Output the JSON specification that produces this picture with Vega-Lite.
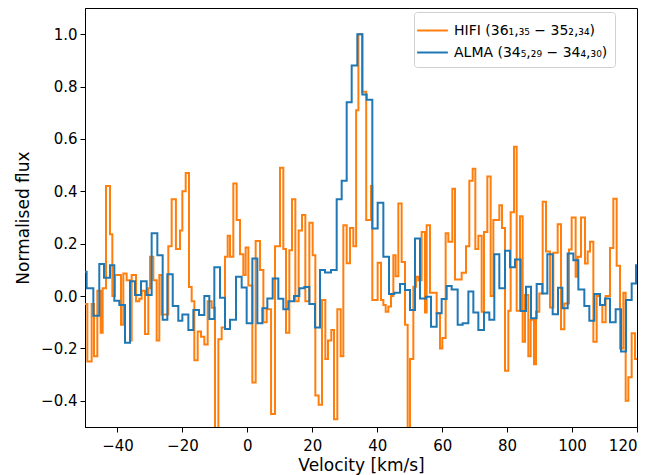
{
  "$schema": "https://vega.github.io/schema/vega-lite/v6.json",
  "width": 552,
  "height": 419,
  "autosize": {"type": "none"},
  "padding": {"left": 85, "top": 8, "right": 27, "bottom": 48},
  "background": "white",
  "config": {
    "font": "DejaVu Sans",
    "view": {"stroke": "black", "strokeWidth": 1},
    "axis": {
      "grid": false,
      "domainColor": "black",
      "domainWidth": 1,
      "tickColor": "black",
      "tickSize": 5,
      "tickWidth": 1,
      "labelFont": "DejaVu Sans",
      "labelFontSize": 15,
      "labelColor": "black",
      "titleFont": "DejaVu Sans",
      "titleFontSize": 17,
      "titleFontWeight": "normal",
      "titleColor": "black",
      "labelPadding": 3
    }
  },
  "datasets": {
    "hifi": [
      {"v": -50, "f": -0.03, "s": "HIFI (36₁,₃₅ − 35₂,₃₄)"},
      {"v": -49.28, "f": -0.25, "s": "HIFI (36₁,₃₅ − 35₂,₃₄)"},
      {"v": -47.95, "f": -0.03, "s": "HIFI (36₁,₃₅ − 35₂,₃₄)"},
      {"v": -47.23, "f": -0.23, "s": "HIFI (36₁,₃₅ − 35₂,₃₄)"},
      {"v": -46.2, "f": 0.02, "s": "HIFI (36₁,₃₅ − 35₂,₃₄)"},
      {"v": -45.17, "f": -0.14, "s": "HIFI (36₁,₃₅ − 35₂,₃₄)"},
      {"v": -44.56, "f": 0.03, "s": "HIFI (36₁,₃₅ − 35₂,₃₄)"},
      {"v": -43.53, "f": 0.42, "s": "HIFI (36₁,₃₅ − 35₂,₃₄)"},
      {"v": -42.3, "f": 0.236, "s": "HIFI (36₁,₃₅ − 35₂,₃₄)"},
      {"v": -41.58, "f": 0.0, "s": "HIFI (36₁,₃₅ − 35₂,₃₄)"},
      {"v": -40.76, "f": 0.08, "s": "HIFI (36₁,₃₅ − 35₂,₃₄)"},
      {"v": -38.91, "f": -0.11, "s": "HIFI (36₁,₃₅ − 35₂,₃₄)"},
      {"v": -38.2, "f": 0.086, "s": "HIFI (36₁,₃₅ − 35₂,₃₄)"},
      {"v": -37.17, "f": 0.06, "s": "HIFI (36₁,₃₅ − 35₂,₃₄)"},
      {"v": -36.14, "f": -0.17, "s": "HIFI (36₁,₃₅ − 35₂,₃₄)"},
      {"v": -35.63, "f": 0.08, "s": "HIFI (36₁,₃₅ − 35₂,₃₄)"},
      {"v": -34.29, "f": -0.02, "s": "HIFI (36₁,₃₅ − 35₂,₃₄)"},
      {"v": -33.27, "f": -0.01, "s": "HIFI (36₁,₃₅ − 35₂,₃₄)"},
      {"v": -32.55, "f": 0.02, "s": "HIFI (36₁,₃₅ − 35₂,₃₄)"},
      {"v": -31.52, "f": -0.145, "s": "HIFI (36₁,₃₅ − 35₂,₃₄)"},
      {"v": -30.5, "f": 0.03, "s": "HIFI (36₁,₃₅ − 35₂,₃₄)"},
      {"v": -29.98, "f": 0.15, "s": "HIFI (36₁,₃₅ − 35₂,₃₄)"},
      {"v": -28.95, "f": 0.06, "s": "HIFI (36₁,₃₅ − 35₂,₃₄)"},
      {"v": -27.93, "f": -0.17, "s": "HIFI (36₁,₃₅ − 35₂,₃₄)"},
      {"v": -27.11, "f": 0.08, "s": "HIFI (36₁,₃₅ − 35₂,₃₄)"},
      {"v": -26.39, "f": -0.07, "s": "HIFI (36₁,₃₅ − 35₂,₃₄)"},
      {"v": -24.34, "f": 0.19, "s": "HIFI (36₁,₃₅ − 35₂,₃₄)"},
      {"v": -23.31, "f": 0.37, "s": "HIFI (36₁,₃₅ − 35₂,₃₄)"},
      {"v": -22.0, "f": 0.18, "s": "HIFI (36₁,₃₅ − 35₂,₃₄)"},
      {"v": -20.74, "f": 0.25, "s": "HIFI (36₁,₃₅ − 35₂,₃₄)"},
      {"v": -20.02, "f": 0.4, "s": "HIFI (36₁,₃₅ − 35₂,₃₄)"},
      {"v": -18.99, "f": 0.47, "s": "HIFI (36₁,₃₅ − 35₂,₃₄)"},
      {"v": -17.97, "f": 0.035, "s": "HIFI (36₁,₃₅ − 35₂,₃₄)"},
      {"v": -17.15, "f": -0.02, "s": "HIFI (36₁,₃₅ − 35₂,₃₄)"},
      {"v": -16.33, "f": -0.245, "s": "HIFI (36₁,₃₅ − 35₂,₃₄)"},
      {"v": -15.3, "f": -0.135, "s": "HIFI (36₁,₃₅ − 35₂,₃₄)"},
      {"v": -14.27, "f": -0.155, "s": "HIFI (36₁,₃₅ − 35₂,₃₄)"},
      {"v": -13.25, "f": -0.185, "s": "HIFI (36₁,₃₅ − 35₂,₃₄)"},
      {"v": -12.22, "f": -0.02, "s": "HIFI (36₁,₃₅ − 35₂,₃₄)"},
      {"v": -10.99, "f": -0.045, "s": "HIFI (36₁,₃₅ − 35₂,₃₄)"},
      {"v": -9.96, "f": -0.6, "s": "HIFI (36₁,₃₅ − 35₂,₃₄)"},
      {"v": -8.93, "f": -0.165, "s": "HIFI (36₁,₃₅ − 35₂,₃₄)"},
      {"v": -7.91, "f": -0.12, "s": "HIFI (36₁,₃₅ − 35₂,₃₄)"},
      {"v": -6.88, "f": 0.15, "s": "HIFI (36₁,₃₅ − 35₂,₃₄)"},
      {"v": -6.06, "f": 0.23, "s": "HIFI (36₁,₃₅ − 35₂,₃₄)"},
      {"v": -5.34, "f": 0.15, "s": "HIFI (36₁,₃₅ − 35₂,₃₄)"},
      {"v": -4.32, "f": 0.43, "s": "HIFI (36₁,₃₅ − 35₂,₃₄)"},
      {"v": -3.29, "f": 0.29, "s": "HIFI (36₁,₃₅ − 35₂,₃₄)"},
      {"v": -2.26, "f": 0.16, "s": "HIFI (36₁,₃₅ − 35₂,₃₄)"},
      {"v": -1.24, "f": 0.08, "s": "HIFI (36₁,₃₅ − 35₂,₃₄)"},
      {"v": -0.52, "f": 0.185, "s": "HIFI (36₁,₃₅ − 35₂,₃₄)"},
      {"v": 0.31, "f": 0.04, "s": "HIFI (36₁,₃₅ − 35₂,₃₄)"},
      {"v": 1.54, "f": -0.33, "s": "HIFI (36₁,₃₅ − 35₂,₃₄)"},
      {"v": 2.56, "f": 0.21, "s": "HIFI (36₁,₃₅ − 35₂,₃₄)"},
      {"v": 3.9, "f": 0.1, "s": "HIFI (36₁,₃₅ − 35₂,₃₄)"},
      {"v": 4.93, "f": -0.1, "s": "HIFI (36₁,₃₅ − 35₂,₃₄)"},
      {"v": 5.95, "f": -0.05, "s": "HIFI (36₁,₃₅ − 35₂,₃₄)"},
      {"v": 7.3, "f": -0.45, "s": "HIFI (36₁,₃₅ − 35₂,₃₄)"},
      {"v": 8.52, "f": 0.19, "s": "HIFI (36₁,₃₅ − 35₂,₃₄)"},
      {"v": 10.05, "f": 0.49, "s": "HIFI (36₁,₃₅ − 35₂,₃₄)"},
      {"v": 11.08, "f": 0.18, "s": "HIFI (36₁,₃₅ − 35₂,₃₄)"},
      {"v": 11.9, "f": -0.14, "s": "HIFI (36₁,₃₅ − 35₂,₃₄)"},
      {"v": 12.93, "f": 0.175, "s": "HIFI (36₁,₃₅ − 35₂,₃₄)"},
      {"v": 13.75, "f": 0.37, "s": "HIFI (36₁,₃₅ − 35₂,₃₄)"},
      {"v": 14.78, "f": -0.02, "s": "HIFI (36₁,₃₅ − 35₂,₃₄)"},
      {"v": 15.8, "f": 0.25, "s": "HIFI (36₁,₃₅ − 35₂,₃₄)"},
      {"v": 16.83, "f": 0.31, "s": "HIFI (36₁,₃₅ − 35₂,₃₄)"},
      {"v": 17.86, "f": -0.02, "s": "HIFI (36₁,₃₅ − 35₂,₃₄)"},
      {"v": 19.09, "f": 0.28, "s": "HIFI (36₁,₃₅ − 35₂,₃₄)"},
      {"v": 20.12, "f": 0.156, "s": "HIFI (36₁,₃₅ − 35₂,₃₄)"},
      {"v": 20.94, "f": -0.38, "s": "HIFI (36₁,₃₅ − 35₂,₃₄)"},
      {"v": 21.96, "f": -0.415, "s": "HIFI (36₁,₃₅ − 35₂,₃₄)"},
      {"v": 22.99, "f": -0.015, "s": "HIFI (36₁,₃₅ − 35₂,₃₄)"},
      {"v": 24.02, "f": -0.24, "s": "HIFI (36₁,₃₅ − 35₂,₃₄)"},
      {"v": 24.84, "f": -0.17, "s": "HIFI (36₁,₃₅ − 35₂,₃₄)"},
      {"v": 25.86, "f": -0.13, "s": "HIFI (36₁,₃₅ − 35₂,₃₄)"},
      {"v": 26.69, "f": -0.47, "s": "HIFI (36₁,₃₅ − 35₂,₃₄)"},
      {"v": 27.71, "f": -0.05, "s": "HIFI (36₁,₃₅ − 35₂,₃₄)"},
      {"v": 28.74, "f": -0.23, "s": "HIFI (36₁,₃₅ − 35₂,₃₄)"},
      {"v": 29.56, "f": 0.27, "s": "HIFI (36₁,₃₅ − 35₂,₃₄)"},
      {"v": 30.59, "f": 0.125, "s": "HIFI (36₁,₃₅ − 35₂,₃₄)"},
      {"v": 31.61, "f": 0.26, "s": "HIFI (36₁,₃₅ − 35₂,₃₄)"},
      {"v": 32.64, "f": 0.19, "s": "HIFI (36₁,₃₅ − 35₂,₃₄)"},
      {"v": 33.5, "f": 0.71, "s": "HIFI (36₁,₃₅ − 35₂,₃₄)"},
      {"v": 34.2, "f": 1.0, "s": "HIFI (36₁,₃₅ − 35₂,₃₄)"},
      {"v": 35.4, "f": 0.78, "s": "HIFI (36₁,₃₅ − 35₂,₃₄)"},
      {"v": 36.6, "f": 0.29, "s": "HIFI (36₁,₃₅ − 35₂,₃₄)"},
      {"v": 38.08, "f": 0.42, "s": "HIFI (36₁,₃₅ − 35₂,₃₄)"},
      {"v": 38.49, "f": -0.015, "s": "HIFI (36₁,₃₅ − 35₂,₃₄)"},
      {"v": 40.13, "f": 0.127, "s": "HIFI (36₁,₃₅ − 35₂,₃₄)"},
      {"v": 41.16, "f": -0.015, "s": "HIFI (36₁,₃₅ − 35₂,₃₄)"},
      {"v": 41.88, "f": -0.034, "s": "HIFI (36₁,₃₅ − 35₂,₃₄)"},
      {"v": 42.6, "f": -0.06, "s": "HIFI (36₁,₃₅ − 35₂,₃₄)"},
      {"v": 43.42, "f": -0.04, "s": "HIFI (36₁,₃₅ − 35₂,₃₄)"},
      {"v": 44.24, "f": 0.0, "s": "HIFI (36₁,₃₅ − 35₂,₃₄)"},
      {"v": 44.96, "f": 0.156, "s": "HIFI (36₁,₃₅ − 35₂,₃₄)"},
      {"v": 45.67, "f": 0.076, "s": "HIFI (36₁,₃₅ − 35₂,₃₄)"},
      {"v": 46.5, "f": 0.353, "s": "HIFI (36₁,₃₅ − 35₂,₃₄)"},
      {"v": 47.52, "f": 0.13, "s": "HIFI (36₁,₃₅ − 35₂,₃₄)"},
      {"v": 48.55, "f": -0.11, "s": "HIFI (36₁,₃₅ − 35₂,₃₄)"},
      {"v": 49.37, "f": -0.6, "s": "HIFI (36₁,₃₅ − 35₂,₃₄)"},
      {"v": 50.09, "f": -0.24, "s": "HIFI (36₁,₃₅ − 35₂,₃₄)"},
      {"v": 51.12, "f": 0.036, "s": "HIFI (36₁,₃₅ − 35₂,₃₄)"},
      {"v": 51.94, "f": 0.074, "s": "HIFI (36₁,₃₅ − 35₂,₃₄)"},
      {"v": 52.66, "f": 0.06, "s": "HIFI (36₁,₃₅ − 35₂,₃₄)"},
      {"v": 53.68, "f": 0.245, "s": "HIFI (36₁,₃₅ − 35₂,₃₄)"},
      {"v": 54.71, "f": -0.063, "s": "HIFI (36₁,₃₅ − 35₂,₃₄)"},
      {"v": 55.22, "f": 0.27, "s": "HIFI (36₁,₃₅ − 35₂,₃₄)"},
      {"v": 56.25, "f": 0.013, "s": "HIFI (36₁,₃₅ − 35₂,₃₄)"},
      {"v": 58.3, "f": -0.066, "s": "HIFI (36₁,₃₅ − 35₂,₃₄)"},
      {"v": 59.33, "f": -0.2, "s": "HIFI (36₁,₃₅ − 35₂,₃₄)"},
      {"v": 60.05, "f": -0.16, "s": "HIFI (36₁,₃₅ − 35₂,₃₄)"},
      {"v": 61.07, "f": 0.24, "s": "HIFI (36₁,₃₅ − 35₂,₃₄)"},
      {"v": 61.9, "f": 0.207, "s": "HIFI (36₁,₃₅ − 35₂,₃₄)"},
      {"v": 63.13, "f": 0.41, "s": "HIFI (36₁,₃₅ − 35₂,₃₄)"},
      {"v": 63.95, "f": 0.063, "s": "HIFI (36₁,₃₅ − 35₂,₃₄)"},
      {"v": 66.0, "f": 0.089, "s": "HIFI (36₁,₃₅ − 35₂,₃₄)"},
      {"v": 67.34, "f": 0.19, "s": "HIFI (36₁,₃₅ − 35₂,₃₄)"},
      {"v": 68.36, "f": 0.44, "s": "HIFI (36₁,₃₅ − 35₂,₃₄)"},
      {"v": 69.39, "f": 0.486, "s": "HIFI (36₁,₃₅ − 35₂,₃₄)"},
      {"v": 70.21, "f": 0.18, "s": "HIFI (36₁,₃₅ − 35₂,₃₄)"},
      {"v": 71.14, "f": 0.23, "s": "HIFI (36₁,₃₅ − 35₂,₃₄)"},
      {"v": 72.16, "f": -0.06, "s": "HIFI (36₁,₃₅ − 35₂,₃₄)"},
      {"v": 72.88, "f": 0.245, "s": "HIFI (36₁,₃₅ − 35₂,₃₄)"},
      {"v": 73.91, "f": 0.457, "s": "HIFI (36₁,₃₅ − 35₂,₃₄)"},
      {"v": 74.93, "f": 0.0, "s": "HIFI (36₁,₃₅ − 35₂,₃₄)"},
      {"v": 75.76, "f": 0.29, "s": "HIFI (36₁,₃₅ − 35₂,₃₄)"},
      {"v": 77.6, "f": 0.347, "s": "HIFI (36₁,₃₅ − 35₂,₃₄)"},
      {"v": 78.42, "f": 0.26, "s": "HIFI (36₁,₃₅ − 35₂,₃₄)"},
      {"v": 79.35, "f": -0.285, "s": "HIFI (36₁,₃₅ − 35₂,₃₄)"},
      {"v": 80.38, "f": -0.056, "s": "HIFI (36₁,₃₅ − 35₂,₃₄)"},
      {"v": 81.09, "f": 0.32, "s": "HIFI (36₁,₃₅ − 35₂,₃₄)"},
      {"v": 82.12, "f": 0.57, "s": "HIFI (36₁,₃₅ − 35₂,₃₄)"},
      {"v": 82.94, "f": -0.056, "s": "HIFI (36₁,₃₅ − 35₂,₃₄)"},
      {"v": 83.97, "f": 0.305, "s": "HIFI (36₁,₃₅ − 35₂,₃₄)"},
      {"v": 84.79, "f": -0.174, "s": "HIFI (36₁,₃₅ − 35₂,₃₄)"},
      {"v": 85.51, "f": 0.004, "s": "HIFI (36₁,₃₅ − 35₂,₃₄)"},
      {"v": 86.53, "f": -0.23, "s": "HIFI (36₁,₃₅ − 35₂,₃₄)"},
      {"v": 87.25, "f": -0.09, "s": "HIFI (36₁,₃₅ − 35₂,₃₄)"},
      {"v": 88.28, "f": -0.26, "s": "HIFI (36₁,₃₅ − 35₂,₃₄)"},
      {"v": 88.9, "f": -0.06, "s": "HIFI (36₁,₃₅ − 35₂,₃₄)"},
      {"v": 89.92, "f": 0.01, "s": "HIFI (36₁,₃₅ − 35₂,₃₄)"},
      {"v": 90.95, "f": 0.36, "s": "HIFI (36₁,₃₅ − 35₂,₃₄)"},
      {"v": 91.98, "f": 0.17, "s": "HIFI (36₁,₃₅ − 35₂,₃₄)"},
      {"v": 93.21, "f": -0.044, "s": "HIFI (36₁,₃₅ − 35₂,₃₄)"},
      {"v": 94.23, "f": 0.165, "s": "HIFI (36₁,₃₅ − 35₂,₃₄)"},
      {"v": 95.57, "f": 0.274, "s": "HIFI (36₁,₃₅ − 35₂,₃₄)"},
      {"v": 96.6, "f": -0.127, "s": "HIFI (36₁,₃₅ − 35₂,₃₄)"},
      {"v": 97.62, "f": -0.028, "s": "HIFI (36₁,₃₅ − 35₂,₃₄)"},
      {"v": 99.06, "f": 0.178, "s": "HIFI (36₁,₃₅ − 35₂,₃₄)"},
      {"v": 99.88, "f": 0.3, "s": "HIFI (36₁,₃₅ − 35₂,₃₄)"},
      {"v": 101.1, "f": 0.074, "s": "HIFI (36₁,₃₅ − 35₂,₃₄)"},
      {"v": 101.73, "f": 0.15, "s": "HIFI (36₁,₃₅ − 35₂,₃₄)"},
      {"v": 102.76, "f": 0.3, "s": "HIFI (36₁,₃₅ − 35₂,₃₄)"},
      {"v": 103.99, "f": 0.124, "s": "HIFI (36₁,₃₅ − 35₂,₃₄)"},
      {"v": 104.81, "f": 0.17, "s": "HIFI (36₁,₃₅ − 35₂,₃₄)"},
      {"v": 105.53, "f": 0.207, "s": "HIFI (36₁,₃₅ − 35₂,₃₄)"},
      {"v": 106.56, "f": -0.174, "s": "HIFI (36₁,₃₅ − 35₂,₃₄)"},
      {"v": 107.58, "f": 0.0, "s": "HIFI (36₁,₃₅ − 35₂,₃₄)"},
      {"v": 108.61, "f": -0.034, "s": "HIFI (36₁,₃₅ − 35₂,₃₄)"},
      {"v": 109.33, "f": -0.1, "s": "HIFI (36₁,₃₅ − 35₂,₃₄)"},
      {"v": 110.35, "f": 0.0, "s": "HIFI (36₁,₃₅ − 35₂,₃₄)"},
      {"v": 111.69, "f": 0.184, "s": "HIFI (36₁,₃₅ − 35₂,₃₄)"},
      {"v": 112.71, "f": 0.372, "s": "HIFI (36₁,₃₅ − 35₂,₃₄)"},
      {"v": 113.74, "f": 0.116, "s": "HIFI (36₁,₃₅ − 35₂,₃₄)"},
      {"v": 114.77, "f": -0.2, "s": "HIFI (36₁,₃₅ − 35₂,₃₄)"},
      {"v": 115.8, "f": 0.013, "s": "HIFI (36₁,₃₅ − 35₂,₃₄)"},
      {"v": 116.51, "f": -0.4, "s": "HIFI (36₁,₃₅ − 35₂,₃₄)"},
      {"v": 117.34, "f": -0.31, "s": "HIFI (36₁,₃₅ − 35₂,₃₄)"},
      {"v": 118.36, "f": -0.142, "s": "HIFI (36₁,₃₅ − 35₂,₃₄)"},
      {"v": 119.39, "f": -0.24, "s": "HIFI (36₁,₃₅ − 35₂,₃₄)"},
      {"v": 121, "f": -0.24, "s": "HIFI (36₁,₃₅ − 35₂,₃₄)"}
    ],
    "alma": [
      {"v": -50, "f": 0.093, "s": "ALMA (34₅,₂₉ − 34₄,₃₀)"},
      {"v": -49.49, "f": 0.03, "s": "ALMA (34₅,₂₉ − 34₄,₃₀)"},
      {"v": -47.43, "f": -0.075, "s": "ALMA (34₅,₂₉ − 34₄,₃₀)"},
      {"v": -45.6, "f": 0.122, "s": "ALMA (34₅,₂₉ − 34₄,₃₀)"},
      {"v": -44.15, "f": 0.07, "s": "ALMA (34₅,₂₉ − 34₄,₃₀)"},
      {"v": -42.3, "f": 0.118, "s": "ALMA (34₅,₂₉ − 34₄,₃₀)"},
      {"v": -40.97, "f": -0.018, "s": "ALMA (34₅,₂₉ − 34₄,₃₀)"},
      {"v": -39.43, "f": -0.034, "s": "ALMA (34₅,₂₉ − 34₄,₃₀)"},
      {"v": -37.68, "f": -0.178, "s": "ALMA (34₅,₂₉ − 34₄,₃₀)"},
      {"v": -36.14, "f": 0.057, "s": "ALMA (34₅,₂₉ − 34₄,₃₀)"},
      {"v": -34.6, "f": 0.004, "s": "ALMA (34₅,₂₉ − 34₄,₃₀)"},
      {"v": -32.75, "f": 0.057, "s": "ALMA (34₅,₂₉ − 34₄,₃₀)"},
      {"v": -31.01, "f": 0.004, "s": "ALMA (34₅,₂₉ − 34₄,₃₀)"},
      {"v": -29.47, "f": 0.24, "s": "ALMA (34₅,₂₉ − 34₄,₃₀)"},
      {"v": -27.72, "f": 0.156, "s": "ALMA (34₅,₂₉ − 34₄,₃₀)"},
      {"v": -26.08, "f": -0.09, "s": "ALMA (34₅,₂₉ − 34₄,₃₀)"},
      {"v": -24.64, "f": 0.083, "s": "ALMA (34₅,₂₉ − 34₄,₃₀)"},
      {"v": -22.98, "f": -0.038, "s": "ALMA (34₅,₂₉ − 34₄,₃₀)"},
      {"v": -21.26, "f": -0.094, "s": "ALMA (34₅,₂₉ − 34₄,₃₀)"},
      {"v": -20.02, "f": -0.07, "s": "ALMA (34₅,₂₉ − 34₄,₃₀)"},
      {"v": -18.17, "f": -0.13, "s": "ALMA (34₅,₂₉ − 34₄,₃₀)"},
      {"v": -16.63, "f": -0.053, "s": "ALMA (34₅,₂₉ − 34₄,₃₀)"},
      {"v": -14.89, "f": -0.072, "s": "ALMA (34₅,₂₉ − 34₄,₃₀)"},
      {"v": -13.25, "f": 0.0, "s": "ALMA (34₅,₂₉ − 34₄,₃₀)"},
      {"v": -11.71, "f": -0.088, "s": "ALMA (34₅,₂₉ − 34₄,₃₀)"},
      {"v": -10.17, "f": 0.11, "s": "ALMA (34₅,₂₉ − 34₄,₃₀)"},
      {"v": -8.42, "f": -0.006, "s": "ALMA (34₅,₂₉ − 34₄,₃₀)"},
      {"v": -6.88, "f": -0.126, "s": "ALMA (34₅,₂₉ − 34₄,₃₀)"},
      {"v": -5.34, "f": -0.09, "s": "ALMA (34₅,₂₉ − 34₄,₃₀)"},
      {"v": -3.49, "f": 0.074, "s": "ALMA (34₅,₂₉ − 34₄,₃₀)"},
      {"v": -1.75, "f": 0.033, "s": "ALMA (34₅,₂₉ − 34₄,₃₀)"},
      {"v": -0.21, "f": -0.104, "s": "ALMA (34₅,₂₉ − 34₄,₃₀)"},
      {"v": 1.54, "f": 0.143, "s": "ALMA (34₅,₂₉ − 34₄,₃₀)"},
      {"v": 3.08, "f": -0.104, "s": "ALMA (34₅,₂₉ − 34₄,₃₀)"},
      {"v": 4.62, "f": -0.047, "s": "ALMA (34₅,₂₉ − 34₄,₃₀)"},
      {"v": 6.16, "f": -0.009, "s": "ALMA (34₅,₂₉ − 34₄,₃₀)"},
      {"v": 7.8, "f": 0.067, "s": "ALMA (34₅,₂₉ − 34₄,₃₀)"},
      {"v": 9.54, "f": -0.01, "s": "ALMA (34₅,₂₉ − 34₄,₃₀)"},
      {"v": 11.08, "f": -0.05, "s": "ALMA (34₅,₂₉ − 34₄,₃₀)"},
      {"v": 12.62, "f": -0.02, "s": "ALMA (34₅,₂₉ − 34₄,₃₀)"},
      {"v": 14.37, "f": 0.0, "s": "ALMA (34₅,₂₉ − 34₄,₃₀)"},
      {"v": 16.01, "f": 0.03, "s": "ALMA (34₅,₂₉ − 34₄,₃₀)"},
      {"v": 17.55, "f": 0.035, "s": "ALMA (34₅,₂₉ − 34₄,₃₀)"},
      {"v": 19.09, "f": -0.03, "s": "ALMA (34₅,₂₉ − 34₄,₃₀)"},
      {"v": 20.83, "f": -0.12, "s": "ALMA (34₅,₂₉ − 34₄,₃₀)"},
      {"v": 22.37, "f": 0.1, "s": "ALMA (34₅,₂₉ − 34₄,₃₀)"},
      {"v": 23.91, "f": 0.09, "s": "ALMA (34₅,₂₉ − 34₄,₃₀)"},
      {"v": 25.76, "f": 0.1, "s": "ALMA (34₅,₂₉ − 34₄,₃₀)"},
      {"v": 27.51, "f": 0.37, "s": "ALMA (34₅,₂₉ − 34₄,₃₀)"},
      {"v": 29.05, "f": 0.44, "s": "ALMA (34₅,₂₉ − 34₄,₃₀)"},
      {"v": 30.59, "f": 0.74, "s": "ALMA (34₅,₂₉ − 34₄,₃₀)"},
      {"v": 32.13, "f": 0.88, "s": "ALMA (34₅,₂₉ − 34₄,₃₀)"},
      {"v": 33.87, "f": 1.0, "s": "ALMA (34₅,₂₉ − 34₄,₃₀)"},
      {"v": 35.41, "f": 0.77, "s": "ALMA (34₅,₂₉ − 34₄,₃₀)"},
      {"v": 36.75, "f": 0.75, "s": "ALMA (34₅,₂₉ − 34₄,₃₀)"},
      {"v": 38.49, "f": 0.258, "s": "ALMA (34₅,₂₉ − 34₄,₃₀)"},
      {"v": 40.13, "f": 0.356, "s": "ALMA (34₅,₂₉ − 34₄,₃₀)"},
      {"v": 41.88, "f": 0.15, "s": "ALMA (34₅,₂₉ − 34₄,₃₀)"},
      {"v": 43.62, "f": 0.008, "s": "ALMA (34₅,₂₉ − 34₄,₃₀)"},
      {"v": 45.26, "f": 0.013, "s": "ALMA (34₅,₂₉ − 34₄,₃₀)"},
      {"v": 47.01, "f": 0.046, "s": "ALMA (34₅,₂₉ − 34₄,₃₀)"},
      {"v": 48.55, "f": 0.023, "s": "ALMA (34₅,₂₉ − 34₄,₃₀)"},
      {"v": 50.09, "f": -0.053, "s": "ALMA (34₅,₂₉ − 34₄,₃₀)"},
      {"v": 51.63, "f": 0.22, "s": "ALMA (34₅,₂₉ − 34₄,₃₀)"},
      {"v": 53.17, "f": -0.009, "s": "ALMA (34₅,₂₉ − 34₄,₃₀)"},
      {"v": 55.02, "f": -0.003, "s": "ALMA (34₅,₂₉ − 34₄,₃₀)"},
      {"v": 56.56, "f": -0.117, "s": "ALMA (34₅,₂₉ − 34₄,₃₀)"},
      {"v": 58.3, "f": -0.066, "s": "ALMA (34₅,₂₉ − 34₄,₃₀)"},
      {"v": 59.84, "f": -0.011, "s": "ALMA (34₅,₂₉ − 34₄,₃₀)"},
      {"v": 61.38, "f": 0.038, "s": "ALMA (34₅,₂₉ − 34₄,₃₀)"},
      {"v": 62.92, "f": 0.025, "s": "ALMA (34₅,₂₉ − 34₄,₃₀)"},
      {"v": 64.77, "f": -0.11, "s": "ALMA (34₅,₂₉ − 34₄,₃₀)"},
      {"v": 66.3, "f": -0.104, "s": "ALMA (34₅,₂₉ − 34₄,₃₀)"},
      {"v": 68.06, "f": 0.017, "s": "ALMA (34₅,₂₉ − 34₄,₃₀)"},
      {"v": 69.6, "f": -0.063, "s": "ALMA (34₅,₂₉ − 34₄,₃₀)"},
      {"v": 71.14, "f": -0.13, "s": "ALMA (34₅,₂₉ − 34₄,₃₀)"},
      {"v": 72.88, "f": -0.063, "s": "ALMA (34₅,₂₉ − 34₄,₃₀)"},
      {"v": 74.52, "f": -0.09, "s": "ALMA (34₅,₂₉ − 34₄,₃₀)"},
      {"v": 76.06, "f": 0.16, "s": "ALMA (34₅,₂₉ − 34₄,₃₀)"},
      {"v": 77.6, "f": 0.03, "s": "ALMA (34₅,₂₉ − 34₄,₃₀)"},
      {"v": 79.35, "f": 0.173, "s": "ALMA (34₅,₂₉ − 34₄,₃₀)"},
      {"v": 80.89, "f": 0.11, "s": "ALMA (34₅,₂₉ − 34₄,₃₀)"},
      {"v": 82.43, "f": 0.14, "s": "ALMA (34₅,₂₉ − 34₄,₃₀)"},
      {"v": 84.17, "f": -0.057, "s": "ALMA (34₅,₂₉ − 34₄,₃₀)"},
      {"v": 85.82, "f": 0.036, "s": "ALMA (34₅,₂₉ − 34₄,₃₀)"},
      {"v": 87.36, "f": -0.085, "s": "ALMA (34₅,₂₉ − 34₄,₃₀)"},
      {"v": 89.1, "f": 0.046, "s": "ALMA (34₅,₂₉ − 34₄,₃₀)"},
      {"v": 90.85, "f": 0.01, "s": "ALMA (34₅,₂₉ − 34₄,₃₀)"},
      {"v": 92.39, "f": 0.16, "s": "ALMA (34₅,₂₉ − 34₄,₃₀)"},
      {"v": 94.03, "f": -0.069, "s": "ALMA (34₅,₂₉ − 34₄,₃₀)"},
      {"v": 95.67, "f": 0.032, "s": "ALMA (34₅,₂₉ − 34₄,₃₀)"},
      {"v": 97.01, "f": -0.047, "s": "ALMA (34₅,₂₉ − 34₄,₃₀)"},
      {"v": 98.65, "f": 0.163, "s": "ALMA (34₅,₂₉ − 34₄,₃₀)"},
      {"v": 100.4, "f": 0.137, "s": "ALMA (34₅,₂₉ − 34₄,₃₀)"},
      {"v": 101.94, "f": 0.025, "s": "ALMA (34₅,₂₉ − 34₄,₃₀)"},
      {"v": 103.78, "f": -0.038, "s": "ALMA (34₅,₂₉ − 34₄,₃₀)"},
      {"v": 105.32, "f": -0.094, "s": "ALMA (34₅,₂₉ − 34₄,₃₀)"},
      {"v": 106.86, "f": 0.008, "s": "ALMA (34₅,₂₉ − 34₄,₃₀)"},
      {"v": 108.61, "f": -0.034, "s": "ALMA (34₅,₂₉ − 34₄,₃₀)"},
      {"v": 110.15, "f": -0.009, "s": "ALMA (34₅,₂₉ − 34₄,₃₀)"},
      {"v": 111.69, "f": -0.1, "s": "ALMA (34₅,₂₉ − 34₄,₃₀)"},
      {"v": 113.43, "f": -0.05, "s": "ALMA (34₅,₂₉ − 34₄,₃₀)"},
      {"v": 115.08, "f": -0.212, "s": "ALMA (34₅,₂₉ − 34₄,₃₀)"},
      {"v": 116.62, "f": -0.015, "s": "ALMA (34₅,₂₉ − 34₄,₃₀)"},
      {"v": 118.36, "f": 0.048, "s": "ALMA (34₅,₂₉ − 34₄,₃₀)"},
      {"v": 119.7, "f": 0.118, "s": "ALMA (34₅,₂₉ − 34₄,₃₀)"},
      {"v": 121, "f": 0.118, "s": "ALMA (34₅,₂₉ − 34₄,₃₀)"}
    ]
  },
  "encoding": {
    "x": {
      "field": "v",
      "type": "quantitative",
      "scale": {"domain": [-50, 120], "nice": false, "zero": false},
      "axis": {
        "title": "Velocity [km/s]",
        "values": [-40, -20, 0, 20, 40, 60, 80, 100, 120],
        "labelExpr": "replace(datum.label, '-', '−')",
        "labelFontSize": 15,
        "labelPadding": 6,
        "titleFontSize": 17,
        "titlePadding": 4
      }
    },
    "y": {
      "field": "f",
      "type": "quantitative",
      "scale": {"domain": [-0.5, 1.1], "nice": false, "zero": false},
      "axis": {
        "title": "Normalised flux",
        "values": [-0.4, -0.2, 0, 0.2, 0.4, 0.6, 0.8, 1.0],
        "format": ".1f",
        "labelExpr": "replace(datum.label, '-', '−')",
        "labelFontSize": 15,
        "titleFontSize": 17,
        "titlePadding": 8
      }
    },
    "color": {
      "field": "s",
      "type": "nominal",
      "scale": {
        "domain": ["HIFI (36₁,₃₅ − 35₂,₃₄)", "ALMA (34₅,₂₉ − 34₄,₃₀)"],
        "range": ["#ff7f0e", "#1f77b4"]
      },
      "legend": {
        "title": null,
        "orient": "none",
        "legendX": 329,
        "legendY": 4,
        "symbolType": "M-1.5,0H1.5",
        "symbolSize": 420,
        "symbolStrokeWidth": 2,
        "labelFontSize": 14,
        "labelFont": "DejaVu Sans",
        "labelColor": "black",
        "labelOffset": 10,
        "rowPadding": 3,
        "padding": 7,
        "strokeColor": "#d0d0d0",
        "fillColor": "white",
        "cornerRadius": 3
      }
    }
  },
  "layer": [
    {
      "data": {"name": "hifi"},
      "mark": {"type": "line", "interpolate": "step-after", "strokeWidth": 2, "clip": true}
    },
    {
      "data": {"name": "alma"},
      "mark": {"type": "line", "interpolate": "step-after", "strokeWidth": 2, "clip": true}
    }
  ]
}
